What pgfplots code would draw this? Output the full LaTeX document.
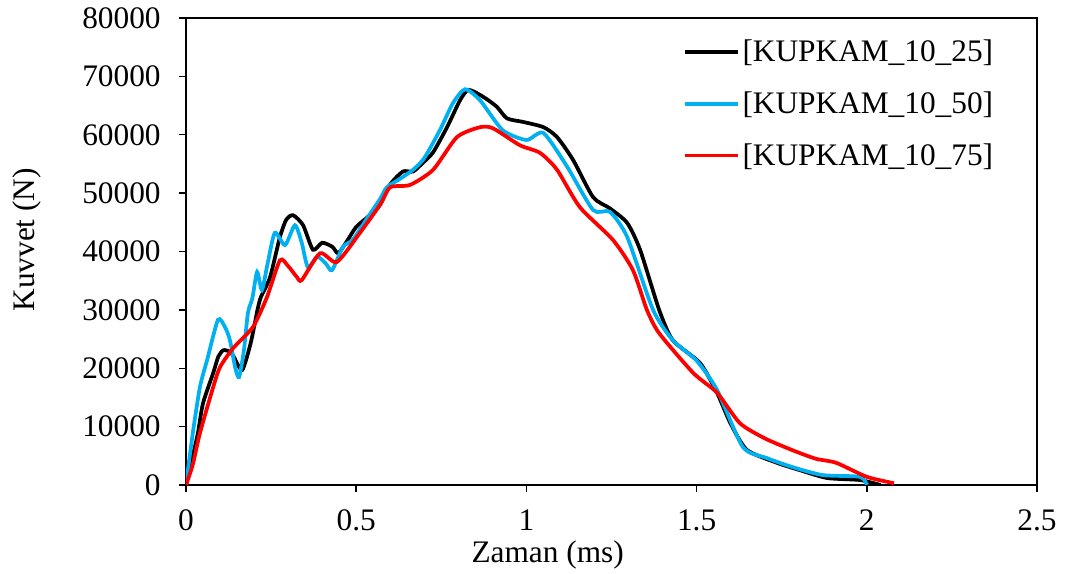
\documentclass[border=0pt]{standalone}
\usepackage{fontspec}
\setmainfont{Liberation Serif}
\usepackage{pgfplots}
\pgfplotsset{compat=1.18}
\definecolor{cblue}{RGB}{0,176,240}
\definecolor{cred}{RGB}{255,0,0}
\begin{document}
\begin{tikzpicture}
\begin{axis}[
 at={(0,0)}, anchor=south west,
 scale only axis, width=638.25pt, height=350.25pt,
 xmin=0, xmax=2.5, ymin=0, ymax=80000,
 xtick={0,0.5,1,1.5,2,2.5}, ytick={0,10000,...,80000},
 scaled y ticks=false, scaled x ticks=false,
 /pgf/number format/assume math mode=true,
 yticklabel style={/pgf/number format/fixed, /pgf/number format/1000 sep={}, xshift=-10.5pt},
 xticklabel style={/pgf/number format/fixed, yshift=-10pt},
 tick align=outside, major tick length=5pt, xtick pos=bottom, ytick pos=left,
 axis line style={line width=1.1pt}, tick style={line width=1.1pt, black},
 ticklabel style={font=\fontsize{23.5}{28}\selectfont},
 label style={font=\fontsize{23.5}{28}\selectfont},
 xlabel={Zaman (ms)}, ylabel={Kuvvet (N)},
 xlabel style={at={(axis description cs:0.425,-0.167)}, anchor=base},
 ylabel style={at={(axis description cs:-0.1786,0.525)}, anchor=base},
 legend style={at={(axis description cs:0.952,0.959)}, anchor=north east, draw=none, fill=none,
   font=\fontsize{23.5}{28}\selectfont, row sep=17pt, inner sep=0pt},
 legend cell align=left,
 legend image code/.code={\draw[#1, line width=2.8pt] (0pt,0pt) -- (40pt,0pt);},
 every axis plot/.append style={line width=2.8pt, smooth, tension=0.4},
]
\addplot[black] coordinates {
(0,0) (0.02,5000) (0.035,8900) (0.05,14000) (0.08,19200) (0.095,22000) (0.11,23100) (0.13,22800) (0.14,22000)
(0.165,19700) (0.19,24300) (0.21,30000) (0.22,32200) (0.247,35600) (0.276,42500) (0.295,45500)
(0.315,46200) (0.344,44500) (0.373,40300) (0.40,41500) (0.43,40800) (0.447,39700) (0.47,41500)
(0.50,44200) (0.54,46200) (0.57,48000) (0.6,51500) (0.637,53700) (0.667,53700) (0.696,55200) (0.726,57000)
(0.767,61300) (0.805,65900) (0.83,67700) (0.873,66500) (0.913,64800) (0.943,62800) (0.99,62200)
(1.05,61300) (1.09,59600) (1.137,55700) (1.196,49300) (1.245,47400) (1.296,44900) (1.334,40300)
(1.39,30000) (1.43,24800) (1.51,20900) (1.56,15800) (1.60,10500) (1.648,6000) (1.736,3800)
(1.80,2600) (1.883,1200) (1.98,850) (2.04,0)
};
\addlegendentry{[KUPKAM\_10\_25]}
\addplot[cblue] coordinates {
(0,0) (0.02,8900) (0.041,16800) (0.062,21400) (0.094,28300) (0.115,27000) (0.129,24800) (0.145,20000)
(0.156,18500) (0.17,23000) (0.182,29500) (0.195,32000) (0.209,36500) (0.223,33400) (0.24,38000)
(0.261,43200) (0.291,41100) (0.32,44500) (0.34,41500) (0.358,37300) (0.385,39100) (0.41,38000)
(0.429,36800) (0.461,40800) (0.49,42000) (0.53,45500) (0.57,49000) (0.59,51000) (0.63,52500)
(0.667,54000) (0.70,56000) (0.746,60800) (0.784,65400) (0.82,67800) (0.864,65900) (0.93,60800)
(1.0,59100) (1.05,60300) (1.12,54500) (1.196,47100) (1.245,46800) (1.296,42500) (1.372,30000)
(1.43,24800) (1.5,21300) (1.56,16300) (1.636,6500) (1.707,4600) (1.78,3100) (1.87,1700)
(1.98,1400) (2.0,0)
};
\addlegendentry{[KUPKAM\_10\_50]}
\addplot[cred] coordinates {
(0,0) (0.02,3500) (0.041,8900) (0.08,16800) (0.1,20200) (0.138,23400) (0.197,27100) (0.238,32200)
(0.276,38500) (0.30,37500) (0.326,35600) (0.34,35100) (0.394,39700) (0.443,38200) (0.511,43200)
(0.57,48000) (0.6,51000) (0.658,51400) (0.726,54000) (0.796,59600) (0.864,61300) (0.902,61100)
(0.981,58200) (1.04,56900) (1.09,54000) (1.157,47600) (1.254,42000) (1.313,36800) (1.354,30000)
(1.39,26000) (1.49,19200) (1.56,15800) (1.627,10600) (1.70,8000) (1.78,6000) (1.85,4500)
(1.91,3800) (2.0,1400) (2.08,300)
};
\addlegendentry{[KUPKAM\_10\_75]}
\end{axis}
\pgfresetboundingbox
\path[use as bounding box] (-139.5pt,-66.75pt) rectangle (659.25pt,363.75pt);
\end{tikzpicture}
\end{document}
